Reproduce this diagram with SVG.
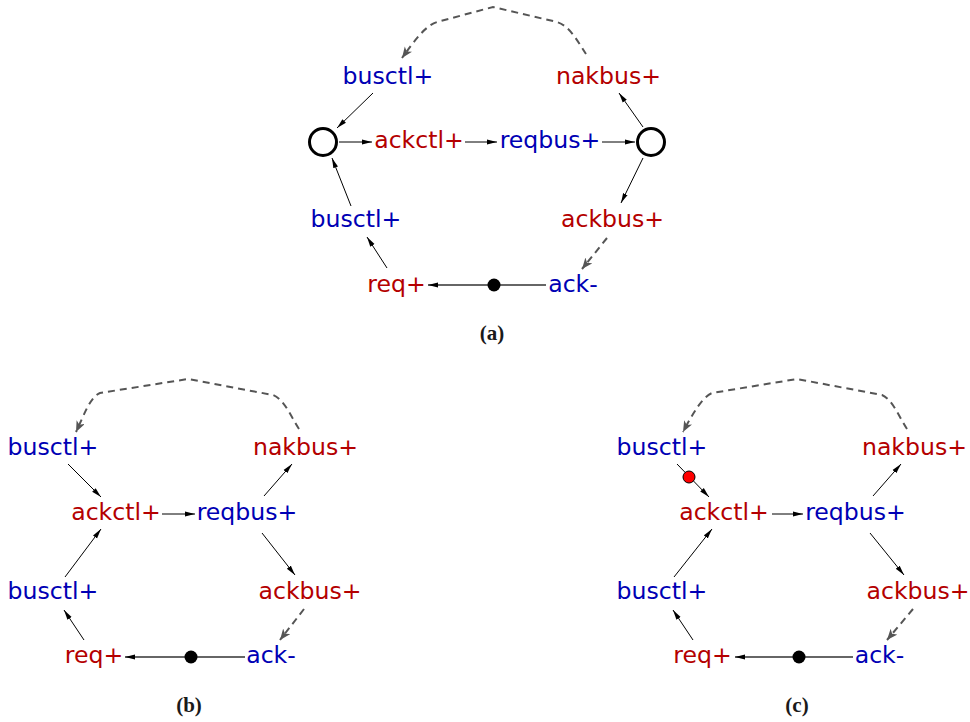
<svg xmlns="http://www.w3.org/2000/svg" width="970" height="722" viewBox="0 0 970 722">
<style>
text{font-family:"DejaVu Sans","Noto Sans",sans-serif;font-size:23.6px;text-anchor:middle}
.b{fill:#0000b4}
.r{fill:#b40000}
.cap{font-family:"Liberation Serif",serif;font-size:21px;font-weight:bold;fill:#1a1a1a}
.e{stroke:#000;stroke-width:1;fill:none;marker-end:url(#ah)}
.d{stroke:#555;stroke-width:2;fill:none;stroke-dasharray:7,5;marker-end:url(#gh)}
.g{stroke:#666;stroke-width:2;fill:none;marker-end:url(#ah)}
</style>
<defs>
<marker id="ah" markerUnits="userSpaceOnUse" markerWidth="12" markerHeight="8" refX="10" refY="3" orient="auto">
<path d="M0,0.5 L10,3 L0,5.5 z" fill="#000"/>
</marker>
<marker id="gh" markerUnits="userSpaceOnUse" markerWidth="14" markerHeight="12" refX="11" refY="4.5" orient="auto">
<path d="M0,0 L11,4.5 L0,9 L3,4.5 z" fill="#555"/>
</marker>
</defs>

<g id="connectors">
<!-- (a) -->
<path class="d" d="M586,54 C578,42 570,26 557,22 L493,7 L437,22 C425,26 415,40 402,58"/>
<line class="e" x1="373" y1="93" x2="337" y2="128"/>
<line class="e" x1="339" y1="142" x2="372" y2="142"/>
<line class="e" x1="465" y1="142" x2="497" y2="142"/>
<line class="e" x1="602" y1="142" x2="635" y2="142"/>
<line class="e" x1="643" y1="127" x2="619" y2="93"/>
<line class="e" x1="643" y1="158" x2="621" y2="203"/>
<path class="d" d="M607,238 L582,269"/>
<line class="g" x1="546" y1="285" x2="428" y2="285"/>
<line class="e" x1="387" y1="268" x2="367" y2="237"/>
<line class="e" x1="351" y1="206" x2="332" y2="158"/>
<!-- (b) -->
<path class="d" d="M299,429 C291,417 285,400 273,395 L188,379 L100,393 C90,397 84,415 76,432"/>
<line class="e" x1="68" y1="464" x2="101" y2="497"/>
<line class="e" x1="162" y1="514" x2="195" y2="514"/>
<line class="e" x1="264" y1="496" x2="292" y2="464"/>
<line class="e" x1="262" y1="533" x2="295" y2="575"/>
<path class="d" d="M304,609 L280,640"/>
<line class="g" x1="245" y1="657" x2="125" y2="657"/>
<line class="e" x1="84" y1="640" x2="64" y2="610"/>
<line class="e" x1="65" y1="577" x2="101" y2="529"/>
<!-- (c) -->
<path class="d" d="M907,429 C899,417 893,400 882,395 L797,379 L712,393 C702,397 692,415 683,432"/>
<line class="e" x1="677" y1="464" x2="709" y2="497"/>
<line class="e" x1="772" y1="514" x2="803" y2="514"/>
<line class="e" x1="873" y1="496" x2="901" y2="464"/>
<line class="e" x1="870" y1="533" x2="904" y2="575"/>
<path class="d" d="M913,609 L887,640"/>
<line class="g" x1="853" y1="657" x2="735" y2="657"/>
<line class="e" x1="693" y1="640" x2="673" y2="610"/>
<line class="e" x1="674" y1="577" x2="712" y2="529"/>
</g>

<!-- diagram (a) -->
<g id="a-circle-left"><circle cx="323" cy="142" r="13.5" fill="#fff" stroke="#000" stroke-width="3"/></g>
<g id="a-circle-right"><circle cx="651" cy="142" r="13.5" fill="#fff" stroke="#000" stroke-width="3"/></g>
<g id="a-busctl-top"><text class="b" x="388" y="84">busctl+</text></g>
<g id="a-nakbus"><text class="r" x="608.5" y="84">nakbus+</text></g>
<g id="a-ackctl"><text class="r" x="419" y="148">ackctl+</text></g>
<g id="a-reqbus"><text class="b" x="550" y="148">reqbus+</text></g>
<g id="a-busctl-low"><text class="b" x="356" y="227">busctl+</text></g>
<g id="a-ackbus"><text class="r" x="612.5" y="227">ackbus+</text></g>
<g id="a-req"><text class="r" x="396.5" y="292">req+</text></g>
<g id="a-ack"><text class="b" x="573" y="292">ack-</text></g>
<g id="a-dot"><circle cx="494" cy="285" r="6.5" fill="#000"/></g>
<g id="a-caption"><text class="cap" x="492" y="340">(a)</text></g>

<!-- diagram (b) -->
<g id="b-busctl-top"><text class="b" x="53" y="455">busctl+</text></g>
<g id="b-nakbus"><text class="r" x="305.5" y="455">nakbus+</text></g>
<g id="b-ackctl"><text class="r" x="116" y="520">ackctl+</text></g>
<g id="b-reqbus"><text class="b" x="247" y="520">reqbus+</text></g>
<g id="b-busctl-low"><text class="b" x="53" y="599">busctl+</text></g>
<g id="b-ackbus"><text class="r" x="310" y="599">ackbus+</text></g>
<g id="b-req"><text class="r" x="94" y="663">req+</text></g>
<g id="b-ack"><text class="b" x="271" y="663">ack-</text></g>
<g id="b-dot"><circle cx="191" cy="657" r="6.5" fill="#000"/></g>
<g id="b-caption"><text class="cap" x="189" y="712">(b)</text></g>

<!-- diagram (c) -->
<g id="c-busctl-top"><text class="b" x="662" y="455">busctl+</text></g>
<g id="c-nakbus"><text class="r" x="914.5" y="455">nakbus+</text></g>
<g id="c-ackctl"><text class="r" x="724" y="520">ackctl+</text></g>
<g id="c-reqbus"><text class="b" x="855.5" y="520">reqbus+</text></g>
<g id="c-busctl-low"><text class="b" x="662" y="599">busctl+</text></g>
<g id="c-ackbus"><text class="r" x="918" y="599">ackbus+</text></g>
<g id="c-req"><text class="r" x="702.5" y="663">req+</text></g>
<g id="c-ack"><text class="b" x="879.5" y="663">ack-</text></g>
<g id="c-dot"><circle cx="799" cy="657" r="6.5" fill="#000"/></g>
<g id="c-token"><circle cx="689" cy="477" r="6" fill="#f00" stroke="#000" stroke-width="1"/></g>
<g id="c-caption"><text class="cap" x="797" y="712">(c)</text></g>
</svg>
